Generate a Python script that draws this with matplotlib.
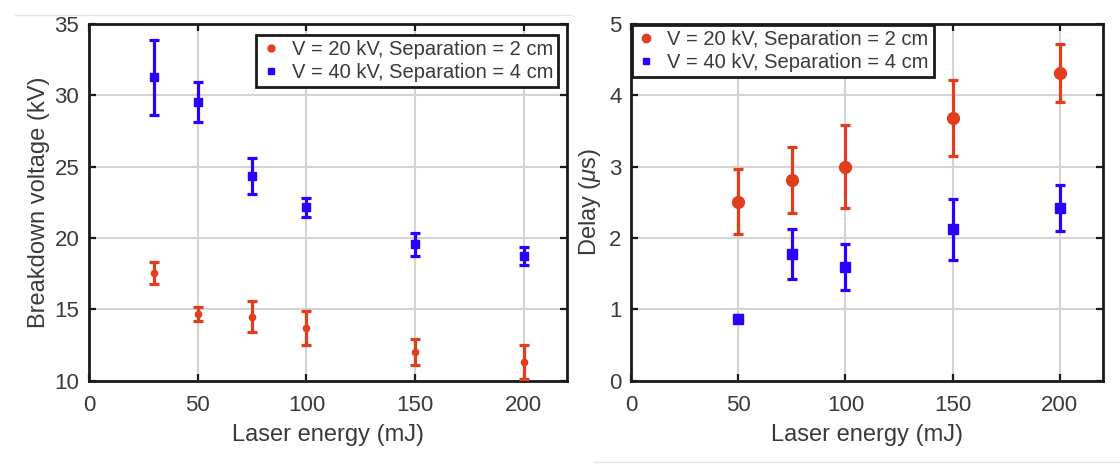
import matplotlib
matplotlib.use("Agg")
import matplotlib.pyplot as plt
from matplotlib.lines import Line2D

plt.rcParams['font.family'] = ['Liberation Sans', 'DejaVu Sans']
plt.rcParams['mathtext.fontset'] = 'custom'
plt.rcParams['mathtext.it'] = 'Liberation Sans:italic'
plt.rcParams['mathtext.rm'] = 'Liberation Sans'

RED = '#E23D1C'
BLUE = '#2A00FF'
TEXT = '#3a3a3a'

label_20 = 'V = 20 kV, Separation = 2 cm'
label_40 = 'V = 40 kV, Separation = 4 cm'

# Breakdown voltage (kV) vs laser energy (mJ)
bd_energy = [30, 50, 75, 100, 150, 200]
bd_20kv = [17.55, 14.7, 14.5, 13.7, 12.0, 11.3]
bd_20kv_err = [0.75, 0.5, 1.1, 1.2, 0.9, 1.2]
bd_40kv = [31.25, 29.5, 24.35, 22.15, 19.55, 18.75]
bd_40kv_err = [2.65, 1.4, 1.25, 0.65, 0.8, 0.65]

# Delay (us) vs laser energy (mJ)
dl_energy = [50, 75, 100, 150, 200]
dl_20kv = [2.51, 2.81, 3.0, 3.68, 4.31]
dl_20kv_err = [0.46, 0.46, 0.58, 0.53, 0.41]
dl_40kv = [0.87, 1.78, 1.59, 2.12, 2.42]
dl_40kv_err = [0.05, 0.35, 0.32, 0.43, 0.32]

fig = plt.figure(figsize=(11.2, 4.76), dpi=100)
ax1 = fig.add_axes([0.0795, 0.200, 0.427, 0.750])
ax2 = fig.add_axes([0.5635, 0.200, 0.421, 0.750])


def style_axes(ax):
    ax.grid(True, color='#D4D4D4', linewidth=1.5)
    ax.set_axisbelow(True)
    for s in ax.spines.values():
        s.set_linewidth(2.0)
        s.set_color('#1a1a1a')
    ax.tick_params(direction='in', top=True, right=True, length=5, width=1.6,
                   labelsize=16, colors='#1a1a1a', pad=7)
    ax.tick_params(axis='x', pad=10)
    for lab in ax.get_xticklabels() + ax.get_yticklabels():
        lab.set_color(TEXT)


def style_legend(leg):
    leg.get_frame().set_linewidth(2.0)
    for t in leg.get_texts():
        t.set_color(TEXT)


legend_kw = dict(fontsize=14.5, fancybox=False, framealpha=1,
                 edgecolor='#1a1a1a', handlelength=0.9, handletextpad=0.6,
                 borderpad=0.25, labelspacing=0.2, borderaxespad=0)

# Left panel
ax1.errorbar(bd_energy, bd_20kv, yerr=bd_20kv_err, fmt='o', color=RED, ms=4.5,
             elinewidth=2.3, capsize=3.5, capthick=2.3, clip_on=False, zorder=3)
ax1.errorbar(bd_energy, bd_40kv, yerr=bd_40kv_err, fmt='s', color=BLUE, ms=5.5,
             elinewidth=2.3, capsize=3.5, capthick=2.3, clip_on=False, zorder=3)
ax1.set_xlim(0, 220)
ax1.set_ylim(10, 35)
ax1.set_xticks([0, 50, 100, 150, 200])
ax1.set_yticks([10, 15, 20, 25, 30, 35])
ax1.set_xlabel('Laser energy (mJ)', fontsize=17, color=TEXT, labelpad=6)
ax1.set_ylabel('Breakdown voltage (kV)', fontsize=17, color=TEXT, labelpad=3)
style_axes(ax1)
h1 = [Line2D([], [], marker='o', ls='none', color=RED, ms=5),
      Line2D([], [], marker='s', ls='none', color=BLUE, ms=5)]
leg1 = ax1.legend(h1, [label_20, label_40], loc='upper right',
                  bbox_to_anchor=(0.981, 0.969), **legend_kw)
style_legend(leg1)

# Right panel
ax2.errorbar(dl_energy, dl_20kv, yerr=dl_20kv_err, fmt='o', color=RED, ms=8.5,
             elinewidth=2.3, capsize=3.5, capthick=2.3, zorder=3)
ax2.errorbar(dl_energy, dl_40kv, yerr=dl_40kv_err, fmt='s', color=BLUE, ms=7.5,
             elinewidth=2.3, capsize=3.5, capthick=2.3, zorder=3)
ax2.set_xlim(0, 220)
ax2.set_ylim(0, 5)
ax2.set_xticks([0, 50, 100, 150, 200])
ax2.set_yticks([0, 1, 2, 3, 4, 5])
ax2.set_xlabel('Laser energy (mJ)', fontsize=17, color=TEXT, labelpad=6)
ax2.set_ylabel(r'Delay ($\mu$s)', fontsize=17, color=TEXT, labelpad=4)
style_axes(ax2)
h2 = [Line2D([], [], marker='o', ls='none', color=RED, ms=6),
      Line2D([], [], marker='s', ls='none', color=BLUE, ms=5)]
leg2 = ax2.legend(h2, [label_20, label_40], loc='upper left',
                  bbox_to_anchor=(0.002, 0.997), **legend_kw)
style_legend(leg2)

# thin page-edge rules around the panels
fig.add_artist(Line2D([0.013, 0.51], [0.969, 0.969], color='#E4E4E4', lw=1))
fig.add_artist(Line2D([0.53, 1.0], [0.03, 0.03], color='#E4E4E4', lw=1))

fig.savefig('out.png', dpi=100, facecolor='white')
